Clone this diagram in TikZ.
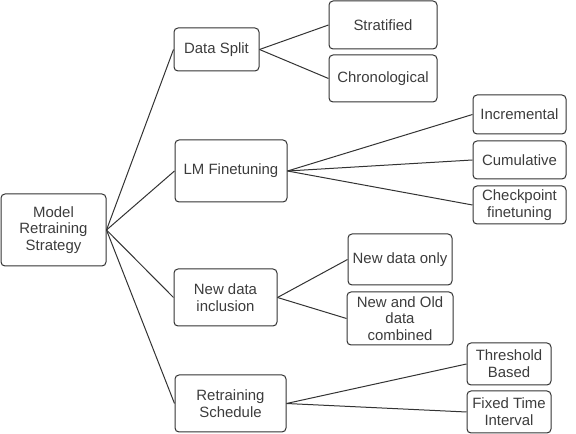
\documentclass[tikz,border=0pt]{standalone}
\usepackage{fontspec}
\setmainfont{Liberation Sans}
\usepackage{tikz}
\definecolor{edgegray}{RGB}{51,51,51}
\definecolor{textgray}{RGB}{60,60,60}
\tikzset{
  box/.style={draw=edgegray, line width=0.75pt, rounded corners=3pt, align=center,
    inner sep=0pt, text=textgray, font=\fontsize{11.2}{12.6}\selectfont},
  link/.style={draw=edgegray, line width=0.75pt}
}

\begin{document}
\begin{tikzpicture}[x=0.75pt,y=0.75pt,yscale=-1,xscale=1]
  \useasboundingbox (0,0) rectangle (576,434);

  % Root
  \node[box, minimum width=78.75pt, minimum height=54pt] (root) at (53.5,230) {Model\\Retraining\\Strategy};

  % First level
  \node[box, minimum width=63.75pt, minimum height=32.25pt] (split) at (216.5,49.5) {Data Split};
  \node[box, minimum width=84pt, minimum height=46.5pt] (finetune) at (231,171) {LM Finetuning};
  \node[box, minimum width=77.25pt, minimum height=42.75pt] (inclusion) at (225.5,297.5) {New data\\inclusion};
  \node[box, minimum width=83.25pt, minimum height=42.75pt] (schedule) at (230.5,403.5) {Retraining\\Schedule};

  % Data split
  \node[box, minimum width=81pt, minimum height=36pt] (strat) at (383,25) {Stratified};
  \node[box, minimum width=81pt, minimum height=35.25pt] (chrono) at (383,78.5) {Chronological};

  % Finetuning
  \node[box, minimum width=69.75pt, minimum height=29.25pt] (incr) at (519.5,114.5) {Incremental};
  \node[box, minimum width=69.75pt, minimum height=28.5pt] (cumul) at (519.5,160) {Cumulative};
  \node[box, minimum width=69.75pt, minimum height=28.5pt] (ckpt) at (519.5,205) {Checkpoint\\finetuning};

  % Data inclusion
  \node[box, minimum width=78pt, minimum height=38.25pt] (newonly) at (400,259.5) {New data only};
  \node[box, minimum width=79.5pt, minimum height=39.75pt] (newold) at (400,318.5) {New and Old\\data\\combined};

  % Schedule
  \node[box, minimum width=63pt, minimum height=31.5pt] (thresh) at (509,364) {Threshold\\Based};
  \node[box, minimum width=63pt, minimum height=31.5pt] (fixed) at (509,412) {Fixed Time\\Interval};

  % Connectors
  \draw[link] (root.east) -- (split.west);
  \draw[link] (root.east) -- (finetune.west);
  \draw[link] (root.east) -- (inclusion.west);
  \draw[link] (root.east) -- (schedule.west);

  \draw[link] (split.east) -- (strat.west);
  \draw[link] (split.east) -- (chrono.west);

  \draw[link] (finetune.east) -- (incr.west);
  \draw[link] (finetune.east) -- (cumul.west);
  \draw[link] (finetune.east) -- (ckpt.west);

  \draw[link] (inclusion.east) -- (newonly.west);
  \draw[link] (inclusion.east) -- (newold.west);

  \draw[link] (schedule.east) -- (thresh.west);
  \draw[link] (schedule.east) -- (fixed.west);
\end{tikzpicture}
\end{document}
